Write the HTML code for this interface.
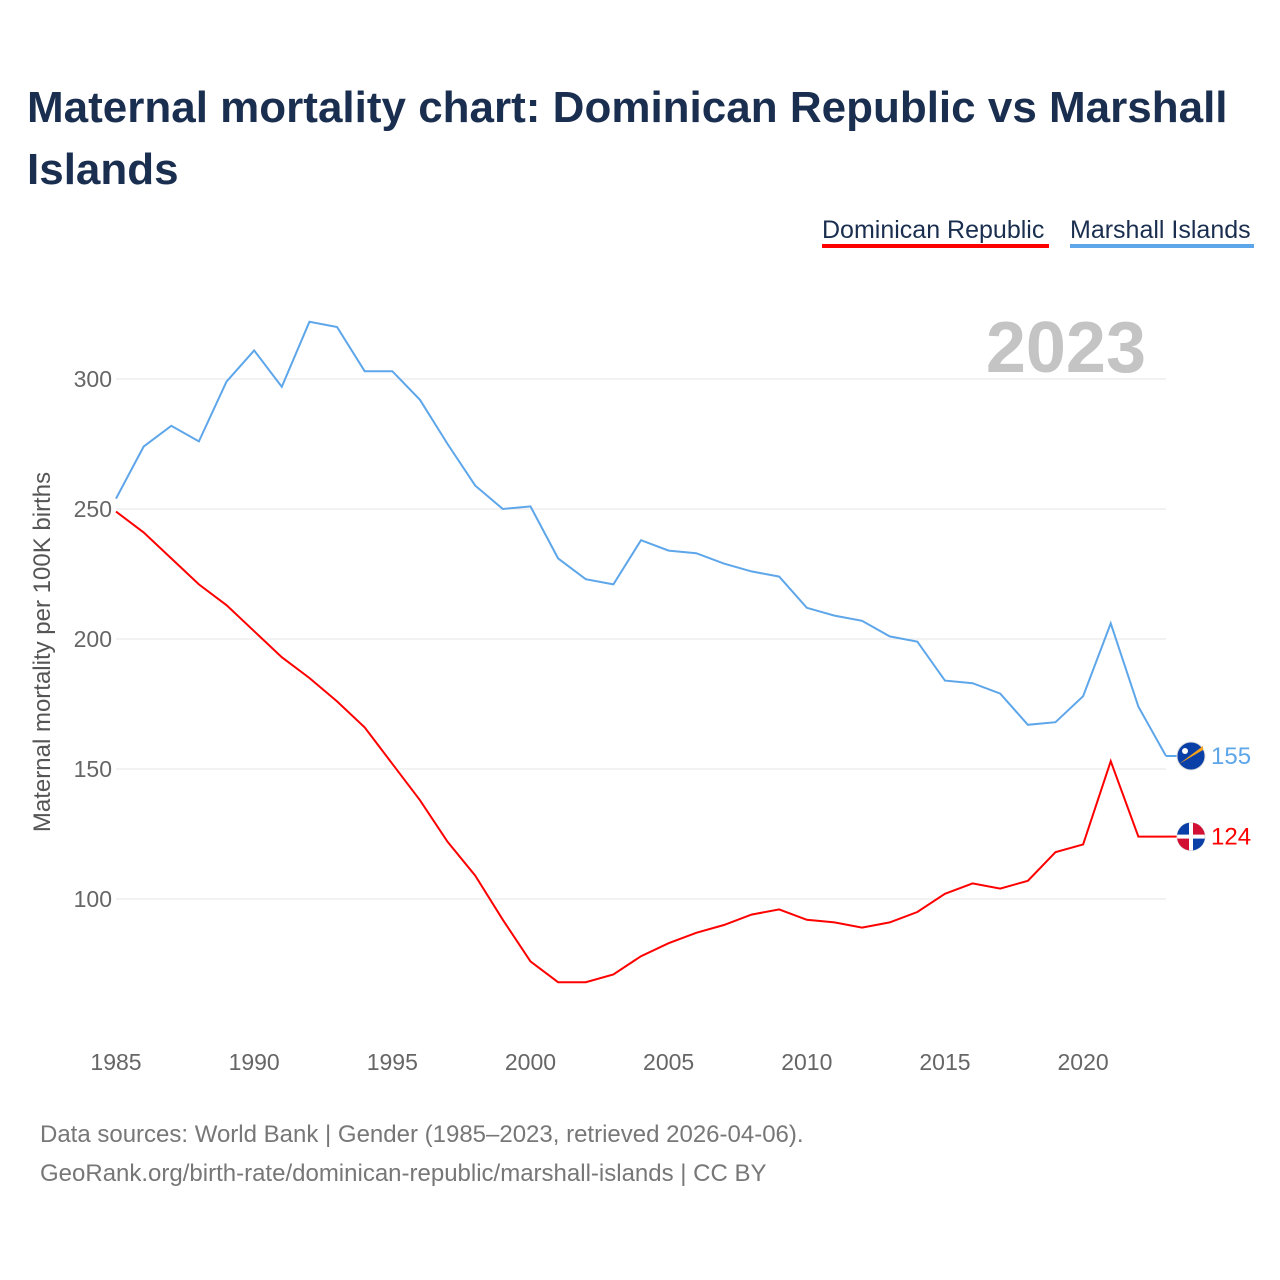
<!DOCTYPE html>
<html><head><meta charset="utf-8"><style>
html,body{margin:0;padding:0;background:#fff;width:1280px;height:1280px;overflow:hidden;font-family:"Liberation Sans",sans-serif}
</style></head><body>
<svg id="chart" width="1280" height="1280" xmlns="http://www.w3.org/2000/svg">
<defs><clipPath id="fc"><circle cx="1191" cy="836" r="14"/></clipPath></defs>
<text x="27" y="122" font-size="44" font-weight="bold" fill="#1a2e4f">Maternal mortality chart: Dominican Republic vs Marshall</text>
<text x="27" y="184" font-size="44" font-weight="bold" fill="#1a2e4f">Islands</text>
<g>
<text x="822" y="238" font-size="25" fill="#1a2e4f">Dominican Republic</text>
<rect x="822" y="244" width="227" height="4" fill="#ff0000"/></g>
<g>
<text x="1070" y="238" font-size="25" fill="#1a2e4f">Marshall Islands</text>
<rect x="1070" y="244" width="184" height="4" fill="#5ea6ea"/></g>
<text x="1146" y="372" font-size="72" font-weight="bold" fill="#c4c4c4" text-anchor="end">2023</text>
<text transform="translate(50,652) rotate(-90)" font-size="24" fill="#555" text-anchor="middle">Maternal mortality per 100K births</text>
<g id="grid"></g><g id="xt"></g><g id="lines"></g>
<text x="40" y="1142" font-size="24" fill="#777">Data sources: World Bank | Gender (1985–2023, retrieved 2026-04-06).</text>
<text x="40" y="1181" font-size="24" fill="#777">GeoRank.org/birth-rate/dominican-republic/marshall-islands | CC BY</text>
</svg>
<script>
const years=[];for(let y=1985;y<=2023;y++)years.push(y);
const domRep=[249,241,231,221,213,203,193,185,176,166,152,138,122,109,92,76,68,68,71,78,83,87,90,94,96,92,91,89,91,95,102,106,104,107,118,121,153,124,124];
const marshall=[254,274,282,276,299,311,297,322,320,303,303,292,275,259,250,251,231,223,221,238,234,233,229,226,224,212,209,207,201,199,184,183,179,167,168,178,206,174,155];
const yTicks=[100,150,200,250,300];
const xTicks=[1985,1990,1995,2000,2005,2010,2015,2020];
const NS="http://www.w3.org/2000/svg";
const X=v=>116+(v-1985)*(1166-116)/38;
const Y=v=>899-(v-100)*2.6;
function mk(t,a,p){const e=document.createElementNS(NS,t);for(const k in a)e.setAttribute(k,a[k]);p.appendChild(e);return e;}
const g=document.getElementById('grid');
yTicks.forEach(t=>{
 const l=mk('line',{x1:116,x2:1166,y1:Y(t),y2:Y(t),stroke:'#e6e6e6','stroke-width':1},g);
 
 
 const tx=mk('text',{x:112,y:Y(t)+8,'font-size':23,fill:'#666','text-anchor':'end'},g);tx.textContent=t;
 
 
});
const xt=document.getElementById('xt');
xTicks.forEach(t=>{
 const tx=mk('text',{x:X(t),y:1070,'font-size':23,fill:'#666','text-anchor':'middle'},xt);tx.textContent=t;
 
 
});
const L=document.getElementById('lines');
function series(vals,color,name){
 const p=mk('polyline',{points:vals.map((v,i)=>X(years[i])+','+Y(v)).join(' '),fill:'none',stroke:color,'stroke-width':2},L);
 
 
 const last=vals[vals.length-1],cy=Y(last);
 mk('line',{x1:1166,x2:1178,y1:cy,y2:cy,stroke:color,'stroke-width':2},L);
 const c=mk('circle',{cx:1191,cy:cy,r:14,fill:name==='marshall-islands'?'#0a3fa8':'#fff',stroke:'#ddd'},L);
 
 
 if(name==='marshall-islands'){mk('path',{d:`M1179 ${cy+8} L1203 ${cy-10} L1203 ${cy-6} Z`,fill:'#f7a21b'},L);mk('circle',{cx:1185,cy:cy-5,r:3,fill:'#fff'},L);}
 else{document.querySelector('#fc circle').setAttribute('cy',cy);const fg=mk('g',{'clip-path':'url(#fc)'},L);mk('rect',{x:1177,y:cy-14,width:12,height:12,fill:'#0a3fa8'},fg);mk('rect',{x:1193,y:cy-14,width:12,height:12,fill:'#d21034'},fg);mk('rect',{x:1177,y:cy+2,width:12,height:12,fill:'#d21034'},fg);mk('rect',{x:1193,y:cy+2,width:12,height:12,fill:'#0a3fa8'},fg);}
 const t=mk('text',{x:1211,y:cy+8,'font-size':24,fill:color},L);t.textContent=last;
 
 
}
series(marshall,'#5ea6ea','marshall-islands');
series(domRep,'#ff0000','dominican-republic');
</script>
</body></html>
